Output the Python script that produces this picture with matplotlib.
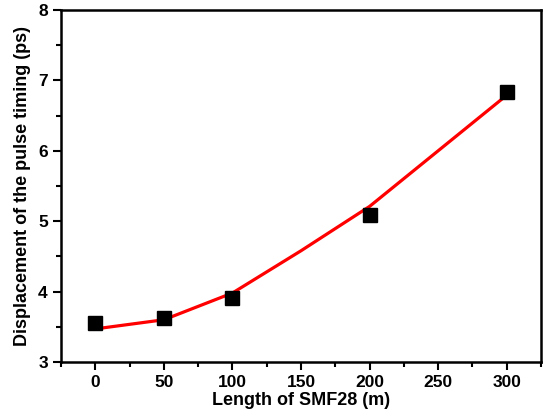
import matplotlib
matplotlib.use("Agg")
import matplotlib.pyplot as plt
from matplotlib.ticker import MultipleLocator

plt.rcParams['font.family'] = ['Liberation Sans', 'DejaVu Sans']
plt.rcParams['font.weight'] = 'bold'

# measured data
length_m = [0, 50, 100, 200, 300]
displacement_ps = [3.56, 3.62, 3.91, 5.09, 6.84]

# fitted curve
fit_x = [0, 50, 100, 150, 200, 250, 300]
fit_y = [3.47, 3.60, 3.98, 4.58, 5.21, 6.00, 6.79]

fig = plt.figure(figsize=(5.48, 4.18), dpi=100)
ax = fig.add_axes((61 / 548, 1 - 362 / 418, 480 / 548, 352 / 418))

ax.plot(fit_x, fit_y, color='red', lw=2.3, zorder=2)
ax.plot(length_m, displacement_ps, 's', color='black', ms=10, zorder=3)

ax.set_xlim(-25, 325)
ax.set_ylim(3, 8)
ax.xaxis.set_major_locator(MultipleLocator(50))
ax.xaxis.set_minor_locator(MultipleLocator(25))
ax.yaxis.set_major_locator(MultipleLocator(1))
ax.yaxis.set_minor_locator(MultipleLocator(0.5))

for s in ax.spines.values():
    s.set_linewidth(1.8)
ax.tick_params(which='major', direction='out', length=6, width=1.5, labelsize=12.5)
ax.tick_params(which='minor', direction='out', length=3.5, width=1.5)

ax.set_xlabel('Length of SMF28 (m)', fontsize=13, fontweight='bold', labelpad=1)
ax.set_ylabel('Displacement of the pulse timing (ps)', fontsize=13, fontweight='bold', labelpad=5)

fig.savefig('out.png', dpi=100)
